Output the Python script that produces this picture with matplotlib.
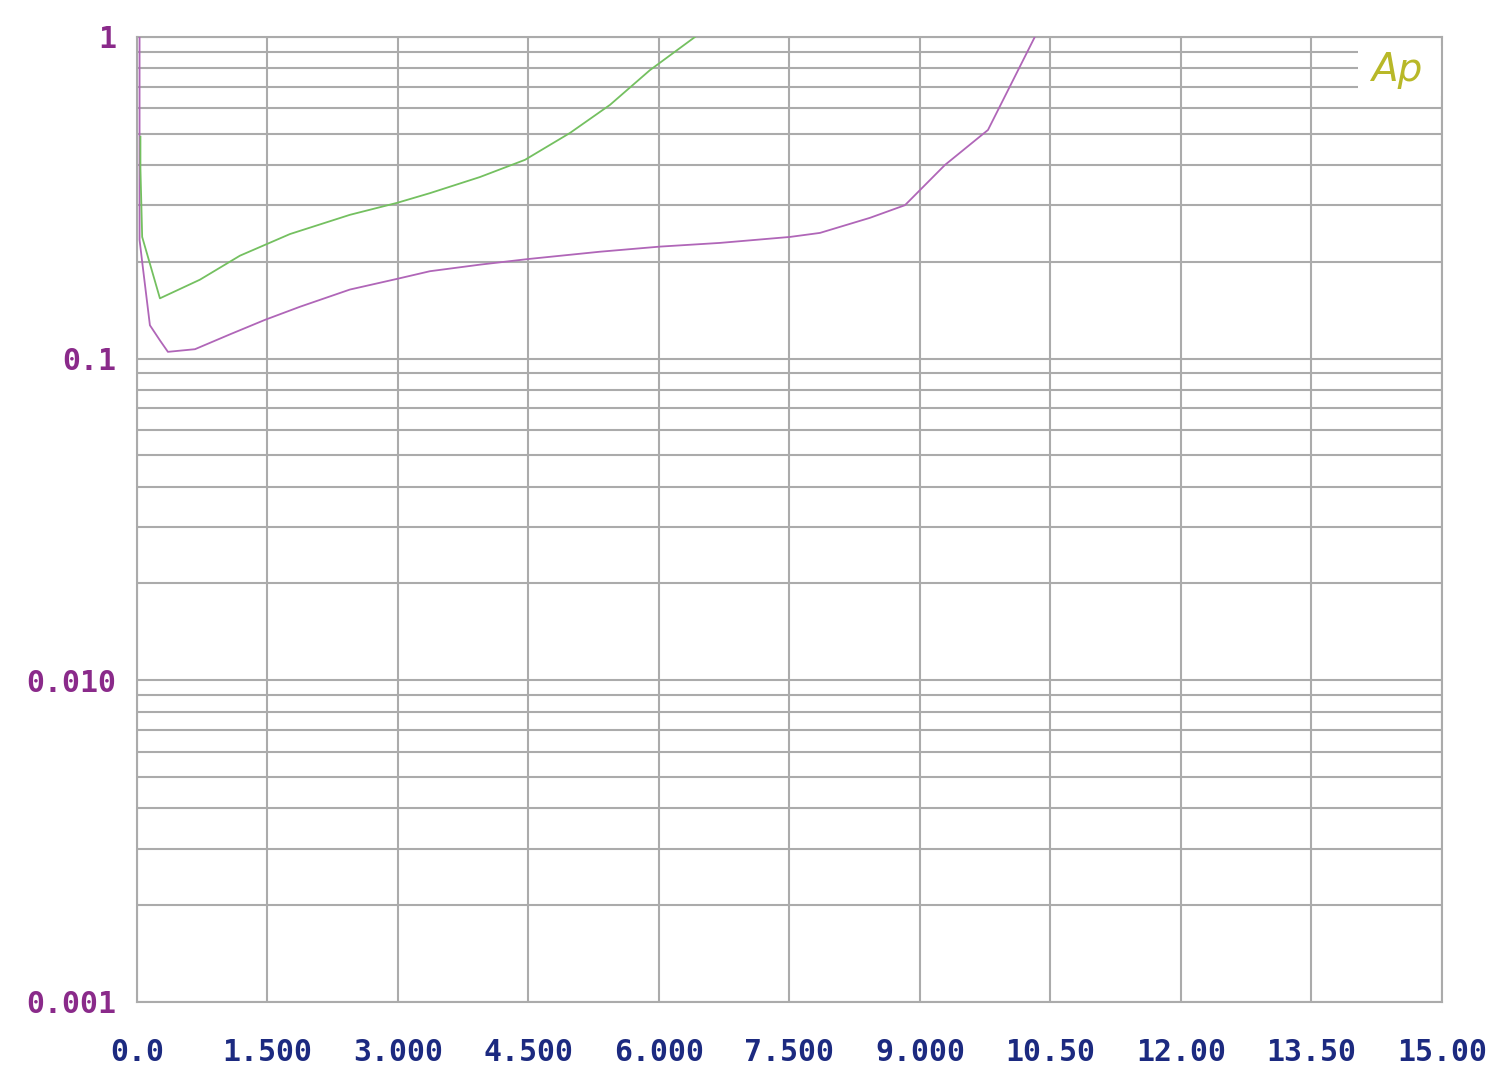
import numpy as np
import matplotlib
matplotlib.use('Agg')
import matplotlib.pyplot as plt
import matplotlib.transforms as mtransforms
from matplotlib.patches import Rectangle

# Curva roxa
x_roxo = [0.03, 0.03, 0.06, 0.149, 0.264, 0.356, 0.667, 1.069, 1.471, 1.874, 2.448,
          2.989, 3.368, 3.943, 4.494, 5.322, 6.011, 6.701, 7.506, 7.851, 8.425,
          8.828, 9.287, 9.782, 10.32]
y_roxo = [1.0, 0.234, 0.20, 0.127, 0.114, 0.105, 0.107, 0.119, 0.132, 0.145, 0.164,
          0.177, 0.187, 0.196, 0.204, 0.215, 0.223, 0.229, 0.239, 0.246, 0.274,
          0.300, 0.400, 0.514, 1.0]

# Curva verde
x_verde = [0.04, 0.04, 0.06, 0.264, 0.724, 1.184, 1.759, 2.448, 2.989, 3.368,
           3.943, 4.460, 4.977, 5.437, 5.897, 6.414]
y_verde = [0.49, 0.39, 0.239, 0.154, 0.176, 0.209, 0.244, 0.280, 0.305, 0.327,
           0.367, 0.415, 0.503, 0.615, 0.789, 1.0]

x_ticks = [0, 1.5, 3, 4.5, 6, 7.5, 9, 10.5, 12, 13.5, 15]
x_labels = ['0.0', '1.500', '3.000', '4.500', '6.000', '7.500', '9.000',
            '10.50', '12.00', '13.50', '15.00']
y_ticks = [0.001, 0.01, 0.1, 1]
y_labels = ['0.001', '0.010', '0.1', '1']

fig = plt.figure(figsize=(15, 10.72), dpi=100)
ax = fig.add_axes([0.0913, 0.0653, 0.87, 0.9002])

cinza = '#ababab'
ax.set_yscale('log')
ax.set_xlim(0, 15)
ax.set_ylim(0.001, 1)
ax.set_axisbelow(True)

ax.set_xticks(x_ticks)
ax.set_xticklabels(x_labels)
ax.set_yticks(y_ticks)
ax.set_yticklabels(y_labels)
ax.yaxis.set_minor_locator(matplotlib.ticker.LogLocator(base=10, subs=np.arange(2, 10)))
ax.yaxis.set_minor_formatter(matplotlib.ticker.NullFormatter())

ax.grid(True, which='both', axis='y', color=cinza, lw=1.5)
ax.grid(True, which='major', axis='x', color=cinza, lw=1.5)
ax.tick_params(which='both', length=0)
ax.tick_params(axis='y', pad=15, labelsize=21.5, labelcolor='#8a2a8a')
ax.tick_params(axis='x', pad=26, labelsize=21.5, labelcolor='#1c2a80')
for lab in ax.get_xticklabels() + ax.get_yticklabels():
    lab.set_family('DejaVu Sans Mono')
    lab.set_fontweight('bold')
for s in ax.spines.values():
    s.set_color(cinza)
    s.set_linewidth(1.5)

ax.plot(x_roxo, y_roxo, color='#b066b8', lw=1.3, zorder=3)
ax.plot(x_verde, y_verde, color='#74c060', lw=1.3, zorder=3)

# Logotipo "Ap" com fundo branco sobre a grade
trans = mtransforms.blended_transform_factory(ax.transAxes, ax.transData)
ax.add_patch(Rectangle((0.9356, 0.655), 0.0635, 0.285, transform=trans,
                       facecolor='white', edgecolor='none', zorder=1))
ax.text(0.9655, 0.79, 'Ap', transform=trans, ha='center', va='center',
        fontsize=28, color='#b8b828', style='italic', family='DejaVu Sans',
        zorder=4)

fig.savefig('out.png', dpi=100)
